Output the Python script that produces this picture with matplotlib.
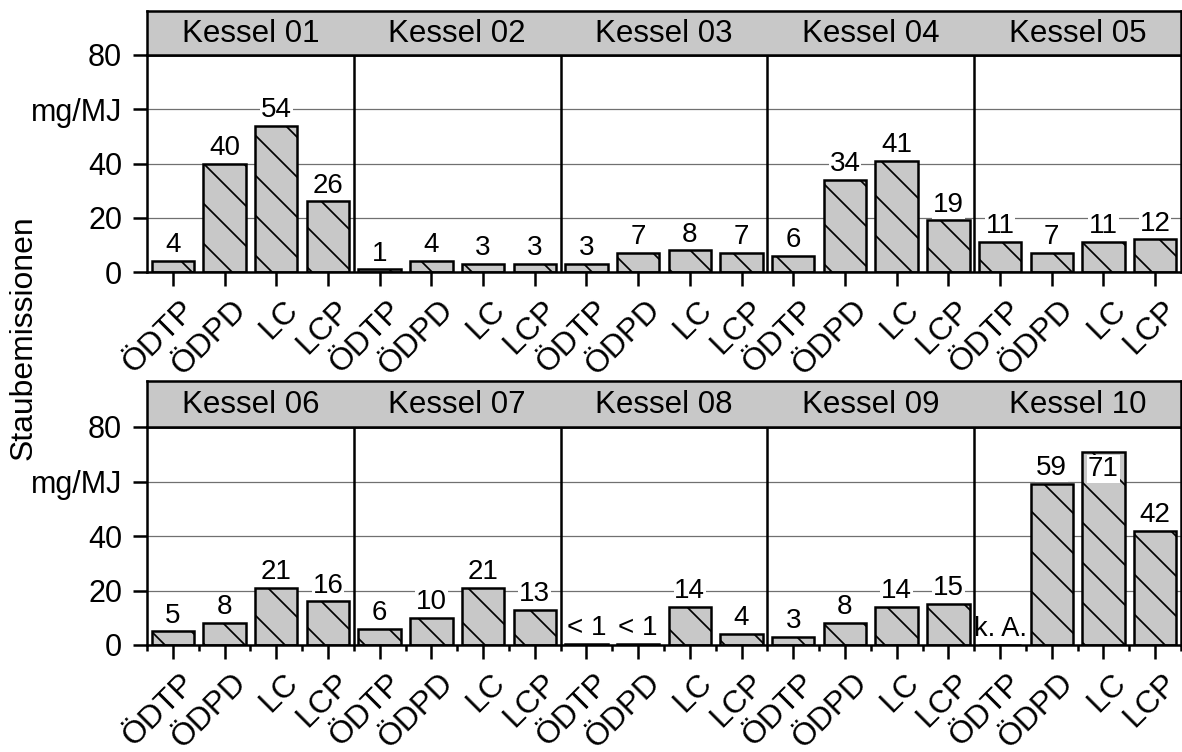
"""
Staubemissionen der Kessel 01-10 je Brennstoff (ÖDTP, ÖDPD, LC, LCP).
"""

import numpy as np
import matplotlib
matplotlib.use("Agg")
import matplotlib.pyplot as plt
from matplotlib.transforms import ScaledTranslation

brennstoffe = ["ÖDTP", "ÖDPD", "LC", "LCP"]
kessel_oben = ["Kessel 01", "Kessel 02", "Kessel 03", "Kessel 04", "Kessel 05"]
kessel_unten = ["Kessel 06", "Kessel 07", "Kessel 08", "Kessel 09", "Kessel 10"]

# mg/MJ, nan = keine Angabe (k. A.), Werte < 1 als "< 1" beschriftet
staub_oben = [
    [4, 40, 54, 26],
    [1, 4, 3, 3],
    [3, 7, 8, 7],
    [6, 34, 41, 19],
    [11, 7, 11, 12],
]
staub_unten = [
    [5, 8, 21, 16],
    [6, 10, 21, 13],
    [0.3, 0.5, 14, 4],
    [3, 8, 14, 15],
    [np.nan, 59, 71, 42],
]

y_ticks = [0, 20, 40, 60, 80]
y_ticklabels = ["0", "20", "40", "mg/MJ", "80"]

GRAU = "#c8c8c8"
W, H = 1182, 752
# dpi 120 -> Schraffur etwas weiter (20 px); Größen unten sind "pt bei 100 dpi"
DPI = 120
S = 100 / DPI

plt.rcParams["font.family"] = ["Liberation Sans", "DejaVu Sans"]
plt.rcParams["hatch.linewidth"] = 1.25 * S


def beschriftung(wert):
    """Text über dem Balken."""
    if np.isnan(wert):
        return "k. A."
    if wert < 1:
        return "< 1"
    return f"{wert:.0f}"


def plot_reihe(fig, rect_ax, rect_kopf, kessel, werte, trennticks=False):
    """Eine Reihe mit 5 Kesseln: Balken + grauer Kopfstreifen."""
    ax = fig.add_axes(rect_ax)
    kopf = fig.add_axes(rect_kopf)

    n = len(brennstoffe)
    y = np.array(werte, dtype=float).ravel()
    x = np.arange(len(y))

    ax.bar(x, np.nan_to_num(y), width=0.82, color=GRAU, edgecolor="black",
           linewidth=1.8 * S, hatch="\\", zorder=2)

    for xi, yi in zip(x, y):
        txt = beschriftung(yi)
        box = dict(facecolor="white", edgecolor="none", pad=0.5)
        if np.isnan(yi):
            ax.text(xi, 1.0, txt, ha="center", va="bottom", fontsize=19.5 * S, zorder=4)
        elif yi > 65:
            ax.annotate(txt, (xi, yi), xytext=(0, -3 * S), textcoords="offset points",
                        ha="center", va="top", fontsize=20 * S, bbox=box, zorder=4)
        else:
            ax.annotate(txt, (xi, yi), xytext=(0, 2 * S), textcoords="offset points",
                        ha="center", va="bottom", fontsize=20 * S, bbox=box, zorder=4)

    for k in range(1, len(kessel)):
        ax.axvline(k * n - 0.5, color="black", linewidth=1.8 * S, zorder=3)

    ax.set_xlim(-0.5, len(y) - 0.5)
    ax.set_ylim(0, 80)
    ax.set_yticks(y_ticks)
    ax.set_yticklabels(y_ticklabels, fontsize=22 * S)
    ax.set_xticks(x)
    ax.set_xticklabels([])
    # schräge Brennstoff-Beschriftung, etwas rechts/unterhalb des Ticks wie im Original
    versatz = ScaledTranslation(7 / DPI, -23 / DPI, fig.dpi_scale_trans)
    for xi, lab in zip(x, brennstoffe * len(kessel)):
        ax.text(xi, 0, lab, transform=ax.get_xaxis_transform() + versatz,
                fontsize=23 * S, rotation=45, ha="right", va="top",
                rotation_mode="anchor")
    ax.tick_params(axis="x", length=10 * S, width=1.8 * S)
    ax.tick_params(axis="y", length=10 * S, width=1.8 * S, pad=8 * S)
    if trennticks:
        ax.set_xticks(np.arange(-0.5, len(y)), minor=True)
        ax.tick_params(axis="x", which="minor", length=4.5 * S, width=1.8 * S)

    ax.yaxis.grid(True, color="#707070", linewidth=0.9 * S)
    ax.set_axisbelow(True)
    for s in ax.spines.values():
        s.set_linewidth(1.8 * S)

    kopf.set_facecolor(GRAU)
    kopf.set_xlim(-0.5, len(y) - 0.5)
    kopf.set_ylim(0, 1)
    kopf.set_xticks([])
    kopf.set_yticks([])
    for s in kopf.spines.values():
        s.set_linewidth(1.8 * S)
    for k, name in enumerate(kessel):
        kopf.text(k * n + (n - 1) / 2, 0.47, name, ha="center", va="center", fontsize=22.5 * S)
    return ax


fig = plt.figure(figsize=(W / DPI, H / DPI), dpi=DPI)
links, breite = 147 / W, (1181 - 147) / W

plot_reihe(fig, [links, 1 - 272 / H, breite, 217 / H], [links, 1 - 55 / H, breite, 44 / H],
           kessel_oben, staub_oben)
plot_reihe(fig, [links, 1 - 645 / H, breite, 218 / H], [links, 1 - 427 / H, breite, 46 / H],
           kessel_unten, staub_unten, trennticks=True)

fig.text(24 / W, 1 - 338 / H, "Staubemissionen", rotation=90, ha="center", va="center",
         fontsize=23 * S)

fig.savefig("out.png", dpi=DPI)
plt.close(fig)
